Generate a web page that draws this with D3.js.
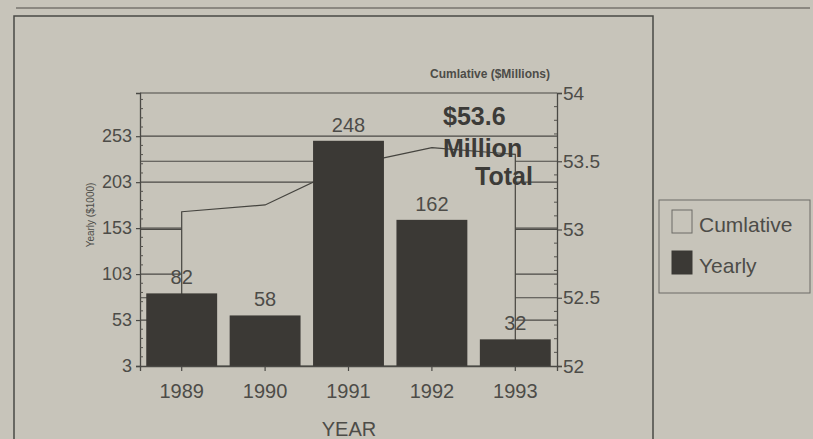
<!DOCTYPE html>
<html>
<head>
<meta charset="utf-8">
<script src="https://cdn.jsdelivr.net/npm/d3@7"></script>
<style>
    body { margin: 0; background: #c7c4ba; }
    text { font-family: "Liberation Sans", Arial, sans-serif; }
</style>
</head>
<body>
<script>
var years = ["1989", "1990", "1991", "1992", "1993"];
var yearly = [82, 58, 248, 162, 32];
var cumulative = [53.13, 53.18, 53.47, 53.6, 53.55];
var leftTicks = [3, 53, 103, 153, 203, 253];
var rightTicks = [52, 52.5, 53, 53.5, 54];
var rightTickLabels = ["52", "52.5", "53", "53.5", "54"];
var totalLines = ["$53.6", "Million", "Total"];

var w = 813;
var h = 439;
var paper = "#c7c4ba";
var ink = "#3c3b38";
var grey = "#4d4c48";
var barColor = "#3b3935";

var plot = { left: 140, right: 557, top: 93, bottom: 366 };

var x = d3.scaleBand().domain(years).range([plot.left, plot.right]).paddingInner(0.15).paddingOuter(0.075);
var yLeft = d3.scaleLinear().domain([3, 300]).range([plot.bottom, plot.top]);
var yRight = d3.scaleLinear().domain([52, 54]).range([plot.bottom, plot.top]);

var svg = d3.select("body")
    .append("svg")
    .attr("width", w)
    .attr("height", h);

svg.append("rect")
    .attr("width", w)
    .attr("height", h)
    .attr("fill", paper);

// page frame
svg.append("line")
    .attr("x1", 16).attr("x2", 810)
    .attr("y1", 8).attr("y2", 8)
    .attr("stroke", "#77756e").attr("stroke-width", 1.5);

svg.append("path")
    .attr("d", "M14," + h + "V16H653V" + h)
    .attr("fill", "none")
    .attr("stroke", "#4a4945").attr("stroke-width", 1.5);

// gridlines for both axes
var grid = svg.append("g").attr("stroke", "#4a4945").attr("stroke-width", 1.2);

grid.selectAll(".gl")
    .data(leftTicks.slice(1))
    .enter()
    .append("line")
    .attr("x1", plot.left).attr("x2", plot.right)
    .attr("y1", (d) => { return yLeft(d) })
    .attr("y2", (d) => { return yLeft(d) });

grid.selectAll(".gr")
    .data(rightTicks.slice(1))
    .enter()
    .append("line")
    .attr("x1", plot.left).attr("x2", plot.right)
    .attr("y1", (d) => { return yRight(d) })
    .attr("y2", (d) => { return yRight(d) });

// cumulative area, paper coloured so it hides the grid behind it
var cumData = years.map((d, i) => { return { year: d, value: cumulative[i] } });

var area = d3.area()
    .x((d) => { return x(d.year) + x.bandwidth() / 2 })
    .y0(plot.bottom)
    .y1((d) => { return yRight(d.value) });

svg.append("path")
    .datum(cumData)
    .attr("d", area)
    .attr("fill", paper)
    .attr("stroke", "#45443f")
    .attr("stroke-width", 1.2);

// yearly bars
svg.selectAll(".bar")
    .data(yearly)
    .enter()
    .append("rect")
    .attr("class", "bar")
    .attr("x", (d, i) => { return x(years[i]) })
    .attr("y", (d) => { return yLeft(d) })
    .attr("width", x.bandwidth())
    .attr("height", (d) => { return plot.bottom - yLeft(d) })
    .attr("fill", barColor);

svg.selectAll(".val")
    .data(yearly)
    .enter()
    .append("text")
    .attr("x", (d, i) => { return x(years[i]) + x.bandwidth() / 2 })
    .attr("y", (d) => { return yLeft(d) - 9 })
    .attr("text-anchor", "middle")
    .attr("font-size", 20)
    .attr("fill", grey)
    .text((d) => { return d });

// axes
var leftAxis = d3.axisLeft(yLeft).tickValues(leftTicks).tickSize(4).tickPadding(4);
var rightAxis = d3.axisRight(yRight).tickValues(rightTicks).tickSize(5).tickPadding(1)
    .tickFormat((d, i) => { return rightTickLabels[i] });
var bottomAxis = d3.axisBottom(x).tickSize(5).tickPadding(13);

var styleAxis = function (g, size) {
    g.select(".domain").attr("stroke", "#4a4945").attr("stroke-width", 1.3);
    g.selectAll(".tick line").attr("stroke", "#4a4945").attr("stroke-width", 1.2);
    g.selectAll("text")
        .attr("font-size", size)
        .attr("fill", grey)
        .style("font-family", "'Liberation Sans', Arial, sans-serif");
}

svg.append("g")
    .attr("transform", "translate(" + plot.left + ",0)")
    .call(leftAxis)
    .call((g) => { styleAxis(g, 18) });

svg.append("g")
    .attr("transform", "translate(" + plot.right + ",0)")
    .call(rightAxis)
    .call((g) => { styleAxis(g, 19) });

svg.append("g")
    .attr("transform", "translate(0," + plot.bottom + ")")
    .call(bottomAxis)
    .call((g) => { styleAxis(g, 20) });

// minor ticks
var minorLeft = d3.range(13, 300, 10).filter((d) => { return leftTicks.indexOf(d) < 0 });
svg.selectAll(".ml")
    .data(minorLeft)
    .enter()
    .append("line")
    .attr("x1", plot.left).attr("x2", plot.left + 3)
    .attr("y1", (d) => { return yLeft(d) })
    .attr("y2", (d) => { return yLeft(d) })
    .attr("stroke", "#55534e");

var minorRight = d3.range(52.1, 54, 0.1).filter((d) => { return Math.abs(d * 2 - Math.round(d * 2)) > 0.01 });
svg.selectAll(".mr")
    .data(minorRight)
    .enter()
    .append("line")
    .attr("x1", plot.right - 3).attr("x2", plot.right)
    .attr("y1", (d) => { return yRight(d) })
    .attr("y2", (d) => { return yRight(d) })
    .attr("stroke", "#55534e");

// axis titles
svg.append("text")
    .attr("transform", "translate(94,215) rotate(-90)")
    .attr("text-anchor", "middle")
    .attr("font-size", 10)
    .attr("fill", grey)
    .text("Yearly ($1000)");

svg.append("text")
    .attr("x", 430)
    .attr("y", 78)
    .attr("font-size", 12)
    .attr("font-weight", "bold")
    .attr("fill", grey)
    .text("Cumlative ($Millions)");

svg.append("text")
    .attr("x", 349)
    .attr("y", 436)
    .attr("text-anchor", "middle")
    .attr("font-size", 20)
    .attr("fill", grey)
    .text("YEAR");

// total annotation
var totalX = [443, 443, 475];
var totalY = [125, 157, 185];
svg.selectAll(".total")
    .data(totalLines)
    .enter()
    .append("text")
    .attr("x", (d, i) => { return totalX[i] })
    .attr("y", (d, i) => { return totalY[i] })
    .attr("font-size", 25)
    .attr("font-weight", "bold")
    .attr("fill", ink)
    .text((d) => { return d });

// legend
var legend = svg.append("g");

legend.append("rect")
    .attr("x", 659).attr("y", 200)
    .attr("width", 151).attr("height", 93)
    .attr("fill", "none")
    .attr("stroke", "#6d6b66")
    .attr("stroke-width", 1);

var legendItems = [
    { label: "Cumlative", fill: paper, y: 210 },
    { label: "Yearly", fill: barColor, y: 251 }
];

legendItems.forEach((item) => {
    legend.append("rect")
        .attr("x", 672).attr("y", item.y)
        .attr("width", 20).attr("height", 23)
        .attr("fill", item.fill)
        .attr("stroke", item.fill == paper ? "#6d6b66" : barColor)
        .attr("stroke-width", 1);

    legend.append("text")
        .attr("x", 699)
        .attr("y", item.y + 22)
        .attr("font-size", 21)
        .attr("fill", grey)
        .text(item.label);
});
</script>
</body>
</html>
